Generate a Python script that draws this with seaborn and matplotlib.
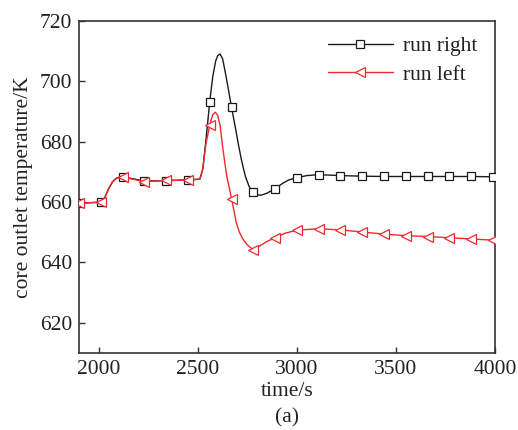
import numpy as np
import pandas as pd
import matplotlib
matplotlib.use("Agg")
import matplotlib.pyplot as plt
import seaborn as sns

# --- data ---
marker_times = [1900, 2010, 2120, 2230, 2340, 2450, 2560, 2670, 2780, 2890,
                3000, 3110, 3220, 3330, 3440, 3550, 3660, 3770, 3880, 3990]

right_t = [1900, 2010, 2030, 2050, 2070, 2090, 2120, 2230, 2340, 2450, 2510,
           2525, 2540, 2560, 2575, 2590, 2600, 2612, 2625, 2640, 2655, 2670,
           2690, 2705, 2720, 2740, 2760, 2780, 2800, 2820, 2850, 2890, 2930,
           2960, 3000, 3050, 3110, 3220, 3330, 3440, 3550, 3660, 3770, 3880, 3990]
right_v = [659.6, 660.0, 661.5, 664.5, 666.8, 668.0, 668.4, 667.0, 667.1, 667.4, 667.6,
           671.0, 680.0, 693.3, 701.5, 706.8, 708.5, 709.1, 707.5, 702.5, 697.0, 691.4,
           684.5, 679.0, 674.0, 668.5, 665.0, 663.2, 662.4, 662.3, 663.0, 664.5, 666.3,
           667.4, 668.1, 668.8, 669.1, 668.8, 668.6, 668.5, 668.5, 668.5, 668.5, 668.5, 668.4]

left_t = [1900, 2010, 2030, 2050, 2070, 2090, 2120, 2230, 2340, 2450, 2510,
          2525, 2540, 2560, 2575, 2588, 2600, 2612, 2627, 2645, 2670, 2694,
          2710, 2728, 2750, 2780, 2820, 2850, 2890, 2940, 3000, 3110, 3220,
          3330, 3440, 3550, 3660, 3770, 3880, 3990]
left_v = [659.6, 660.0, 661.5, 664.5, 666.8, 668.0, 668.3, 666.8, 667.2, 667.3, 667.6,
          671.0, 679.0, 685.5, 689.0, 689.8, 688.8, 685.5, 677.4, 669.0, 661.2, 653.2,
          650.0, 647.7, 645.8, 644.2, 645.8, 647.0, 648.2, 649.7, 650.7, 651.2, 650.8,
          650.1, 649.4, 648.9, 648.6, 648.2, 647.8, 647.4]

x_ticks = [2000, 2500, 3000, 3500, 4000]
y_ticks = [620, 640, 660, 680, 700, 720]

sns.set_theme(style="ticks")
plt.rcParams['font.family'] = ['Liberation Serif', 'DejaVu Serif']

fig = plt.figure(figsize=(5.18, 4.30), dpi=100)
ax = fig.add_axes([0.1525, 0.179, 0.8031, 0.772])

df_r = pd.DataFrame({"t": right_t, "v": right_v})
df_l = pd.DataFrame({"t": left_t, "v": left_v})
me_r = [i for i, t in enumerate(right_t) if t in marker_times]
me_l = [i for i, t in enumerate(left_t) if t in marker_times]

sns.lineplot(data=df_r, x="t", y="v", ax=ax, color="#1a1a1a", lw=1.0,
             marker="s", markersize=5.5, markerfacecolor="white",
             markeredgecolor="#1a1a1a", markeredgewidth=0.9,
             markevery=me_r, label="run right", zorder=3)
sns.lineplot(data=df_l, x="t", y="v", ax=ax, color="#ee2a2e", lw=1.0,
             marker="<", markersize=7.5, markerfacecolor="white",
             markeredgecolor="#ee2a2e", markeredgewidth=0.9,
             markevery=me_l, label="run left", zorder=4)

FS = 15.5
ax.set_xlim(1900, 4000)
ax.set_ylim(610, 720)
ax.set_xticks(x_ticks)
ax.set_yticks(y_ticks)
ax.tick_params(direction="in", length=4, width=1, colors="#333333",
               labelsize=FS, labelcolor="#222222", pad=5,
               top=False, right=False)
for s in ax.spines.values():
    s.set_color("#333333")
    s.set_linewidth(1.2)

ax.set_xlabel("time/s", fontsize=FS, color="#222222", labelpad=2)
ax.set_ylabel("core outlet temperature/K", fontsize=FS, color="#222222", labelpad=5)
fig.text(0.554, 0.028, "(a)", ha="center", va="center", fontsize=FS, color="#222222")

leg = ax.legend(loc="upper right", frameon=False, fontsize=FS,
                handlelength=3.0, handletextpad=0.5, labelspacing=0.4,
                borderaxespad=0.3, bbox_to_anchor=(0.995, 1.0))
for txt in leg.get_texts():
    txt.set_color("#222222")

fig.savefig("out.png", dpi=100)
